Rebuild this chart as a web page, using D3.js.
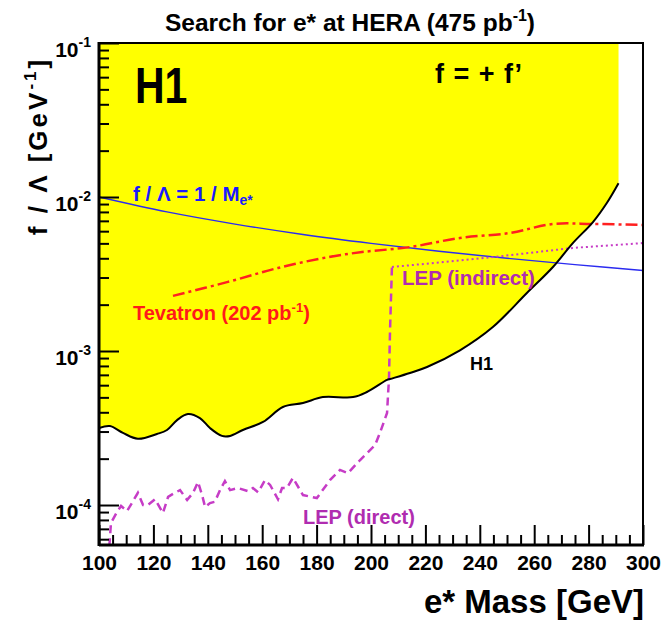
<!DOCTYPE html>
<html>
<head>
<meta charset="utf-8">
<script src="https://cdn.jsdelivr.net/npm/d3@7"></script>
<style>
  body { margin: 0; background: #fff; }
  svg { display: block; font-family: "Liberation Sans", Arial, Helvetica, sans-serif; font-weight: bold; }
</style>
</head>
<body>
<div id="chart"></div>
<script>
// H1 exclusion limit (upper edge of the white region)
const h1Mass  = [100, 104, 108.8, 114.3, 121.3, 125, 128.7, 132.7, 137.1, 140.8, 145.2, 148.2, 152.9, 160.3,
                 167.6, 175, 182.3, 193.4, 198.5, 205.9, 207, 214.3, 220.6, 232.7, 244.8, 257.3, 266.9,
                 274.2, 281.6, 286.7, 291];
const h1Limit = [3.16e-4, 3.26e-4, 2.94e-4, 2.69e-4, 2.89e-4, 3.07e-4, 3.56e-4, 3.90e-4, 3.67e-4, 3.16e-4,
                 2.81e-4, 2.81e-4, 3.07e-4, 3.46e-4, 4.33e-4, 4.59e-4, 5.02e-4, 5.02e-4, 5.42e-4, 6.49e-4,
                 6.58e-4, 7.20e-4, 7.87e-4, 1.01e-3, 1.43e-3, 2.38e-3, 3.51e-3, 5.02e-3, 6.88e-3, 9.15e-3, 1.23e-2];

// LEP direct search
const lepDirMass  = [103.8, 104.4, 106.6, 108.1, 110.3, 112.1, 114.3, 116.2, 118, 120.6, 123.5, 125.4, 127.9,
                     129.8, 132.4, 134.6, 136.4, 137.9, 139, 140.8, 142.6, 144.5, 146.3, 148.2, 151.1, 154.8,
                     156.6, 158.5, 161, 162.9, 165.8, 167.3, 169.1, 171.3, 175, 180.1, 184.9, 188.6, 191.5,
                     196, 201.5, 203.3, 205.9, 206.3, 206.6, 207, 207.7];
const lepDirLimit = [5.4e-5, 7.64e-5, 9.01e-5, 9.86e-5, 9.14e-5, 1.03e-4, 1.20e-4, 1.00e-4, 1.00e-4, 1.09e-4,
                     8.87e-5, 1.13e-4, 1.20e-4, 1.25e-4, 1.08e-4, 1.20e-4, 1.41e-4, 1.16e-4, 9.71e-5, 1.03e-4,
                     1.05e-4, 1.25e-4, 1.43e-4, 1.25e-4, 1.29e-4, 1.23e-4, 1.29e-4, 1.21e-4, 1.45e-4, 1.35e-4,
                     1.09e-4, 1.29e-4, 1.29e-4, 1.50e-4, 1.16e-4, 1.11e-4, 1.45e-4, 1.69e-4, 1.61e-4, 1.96e-4,
                     2.45e-4, 2.94e-4, 3.96e-4, 5.34e-4, 6.48e-4, 1.37e-3, 3.51e-3];

// LEP indirect
const lepIndMass  = [207.7, 226.5, 244.8, 274.2, 300];
const lepIndLimit = [3.51e-3, 3.78e-3, 4.07e-3, 4.67e-3, 5.02e-3];

// Tevatron (202 pb-1)
const tevMass  = [127.2, 147.4, 165.8, 184.2, 196.7, 214.3, 232.7, 251.1, 266.9, 281.6, 300];
const tevLimit = [2.28e-3, 2.81e-3, 3.46e-3, 4.07e-3, 4.39e-3, 4.73e-3, 5.42e-3, 5.84e-3, 6.68e-3, 6.68e-3, 6.58e-3];

// f / Lambda = 1 / M
const unitMass  = [100, 125, 150, 175, 200, 225, 250, 275, 300];
const unitLimit = [1.0e-2, 8.0e-3, 6.67e-3, 5.71e-3, 5.0e-3, 4.44e-3, 4.0e-3, 3.64e-3, 3.33e-3];

const xTickLabels = [100, 120, 140, 160, 180, 200, 220, 240, 260, 280, 300];
const yTickLabels = [1e-4, 1e-3, 1e-2, 1e-1];
const yTickExps   = ["-4", "-3", "-2", "-1"];

const W = 664, H = 620;
const pLeft = 99, pRight = 643, pTop = 43, pBottom = 545;

const x = d3.scaleLinear().domain([100, 300]).range([pLeft, pRight]);
const y = d3.scaleLog().domain([5.5e-5, 0.1]).range([pBottom, pTop]);

const svg = d3.select("#chart").append("svg")
    .attr("width", W)
    .attr("height", H);

svg.append("defs").append("clipPath")
    .attr("id", "plot")
    .append("rect")
    .attr("x", pLeft).attr("y", pTop)
    .attr("width", pRight - pLeft).attr("height", pBottom - pTop);

const zip = (a, b) => a.map((m, i) => [m, b[i]]);
const h1 = zip(h1Mass, h1Limit);

const plot = svg.append("g").attr("clip-path", "url(#plot)");

// excluded region
plot.append("path")
    .datum(h1)
    .attr("fill", "#ffff00")
    .attr("stroke", "none")
    .attr("d", d3.area()
        .x(d => x(d[0]))
        .y0(y(0.1))
        .y1(d => y(d[1]))
        .curve(d3.curveCatmullRom));

const line = d3.line().x(d => x(d[0])).y(d => y(d[1]));

plot.append("path")
    .datum(zip(unitMass, unitLimit))
    .attr("fill", "none")
    .attr("stroke", "#2b2bf0")
    .attr("stroke-width", 1.4)
    .attr("d", line.curve(d3.curveCatmullRom));

plot.append("path")
    .datum(zip(tevMass, tevLimit))
    .attr("fill", "none")
    .attr("stroke", "#ff2020")
    .attr("stroke-width", 2.5)
    .attr("stroke-dasharray", "12,4,3,4")
    .attr("d", line.curve(d3.curveCatmullRom));

plot.append("path")
    .datum(zip(lepIndMass, lepIndLimit))
    .attr("fill", "none")
    .attr("stroke", "#c63cc6")
    .attr("stroke-width", 2)
    .attr("stroke-dasharray", "2,3")
    .attr("d", line.curve(d3.curveLinear));

plot.append("path")
    .datum(zip(lepDirMass, lepDirLimit))
    .attr("fill", "none")
    .attr("stroke", "#c63cc6")
    .attr("stroke-width", 2.5)
    .attr("stroke-dasharray", "8,5")
    .attr("d", line.curve(d3.curveLinear));

plot.append("path")
    .datum(h1)
    .attr("fill", "none")
    .attr("stroke", "#000")
    .attr("stroke-width", 2)
    .attr("d", line.curve(d3.curveCatmullRom));

// axes
const xMinor = d3.range(100, 301, 5).filter(v => v % 20 !== 0);
svg.append("g")
    .attr("transform", "translate(0," + pBottom + ")")
    .call(d3.axisBottom(x).tickValues(xMinor).tickSize(-10).tickFormat(""))
    .call(g => g.select(".domain").remove())
    .call(g => g.selectAll("line").attr("stroke-width", 2));

svg.append("g")
    .attr("transform", "translate(0," + pBottom + ")")
    .call(d3.axisBottom(x).tickValues(xTickLabels).tickSize(-20).tickPadding(10).tickFormat(d3.format("d")))
    .call(g => g.select(".domain").remove())
    .call(g => g.selectAll("line").attr("stroke-width", 2))
    .call(g => g.selectAll("text")
        .attr("font-size", 21)
        .attr("font-family", "Liberation Sans, Arial, sans-serif")
        .attr("font-weight", "bold")
        .attr("fill", "#000"));

const yMinor = y.ticks().filter(v => yTickLabels.every(t => Math.abs(v / t - 1) > 1e-6));
svg.append("g")
    .attr("transform", "translate(" + pLeft + ",0)")
    .call(d3.axisLeft(y).tickValues(yMinor).tickSize(-10).tickFormat(""))
    .call(g => g.select(".domain").remove())
    .call(g => g.selectAll("line").attr("stroke-width", 2));

svg.append("g")
    .attr("transform", "translate(" + pLeft + ",0)")
    .call(d3.axisLeft(y).tickValues(yTickLabels).tickSize(-20).tickFormat(""))
    .call(g => g.select(".domain").remove())
    .call(g => g.selectAll("line").attr("stroke-width", 2));

const yLab = svg.append("g").selectAll("text")
    .data(yTickLabels)
    .join("text")
    .attr("x", 91)
    .attr("y", d => y(d) + 14)
    .attr("text-anchor", "end")
    .attr("font-size", 21);
yLab.append("tspan").text("10");
yLab.append("tspan")
    .attr("font-size", 14)
    .attr("dy", -10)
    .text((d, i) => yTickExps[i]);

// frame
svg.append("rect")
    .attr("x", pLeft).attr("y", pTop)
    .attr("width", pRight - pLeft).attr("height", pBottom - pTop)
    .attr("fill", "none")
    .attr("stroke", "#000")
    .attr("stroke-width", 2);
svg.append("line")
    .attr("x1", pLeft).attr("x2", pLeft)
    .attr("y1", pTop - 1).attr("y2", pBottom + 1)
    .attr("stroke", "#000")
    .attr("stroke-width", 3);
svg.append("line")
    .attr("x1", pLeft).attr("x2", pRight + 1)
    .attr("y1", pBottom).attr("y2", pBottom)
    .attr("stroke", "#000")
    .attr("stroke-width", 3);

// titles
const title = svg.append("text")
    .attr("x", 350).attr("y", 31)
    .attr("text-anchor", "middle")
    .attr("font-size", 24.5);
title.append("tspan").text("Search for e* at HERA (475 pb");
title.append("tspan").attr("font-size", 16).attr("dy", -10).text("-1");
title.append("tspan").attr("dy", 10).text(")");

svg.append("text")
    .attr("x", 644).attr("y", 613)
    .attr("text-anchor", "end")
    .attr("font-size", 33)
    .text("e* Mass [GeV]");

const yTitle = svg.append("text")
    .attr("transform", "translate(47,146) rotate(-90)")
    .attr("text-anchor", "middle")
    .attr("font-size", 26)
    .attr("letter-spacing", 3);
yTitle.append("tspan").text("f / \u039b [GeV");
yTitle.append("tspan").attr("font-size", 17).attr("dy", -11).text("-1");
yTitle.append("tspan").attr("dy", 11).text("]");

// annotations
svg.append("text")
    .attr("transform", "translate(135,103) scale(0.82,1)")
    .attr("font-size", 50)
    .text("H1");

svg.append("text")
    .attr("x", 435).attr("y", 83)
    .attr("font-size", 27)
    .attr("letter-spacing", 1)
    .text("f = + f\u2019");

const unitLab = svg.append("text")
    .attr("x", 133).attr("y", 201)
    .attr("font-size", 20.5)
    .attr("fill", "#1a1aff");
unitLab.append("tspan").text("f / \u039b  = 1 / M");
unitLab.append("tspan").attr("font-size", 14).attr("dy", 4).text("e*");

const tevLab = svg.append("text")
    .attr("x", 133).attr("y", 320)
    .attr("font-size", 20)
    .attr("fill", "#ff1a1a");
tevLab.append("tspan").text("Tevatron (202 pb");
tevLab.append("tspan").attr("font-size", 13).attr("dy", -8).text("-1");
tevLab.append("tspan").attr("dy", 8).text(")");

svg.append("text")
    .attr("x", 402).attr("y", 285)
    .attr("font-size", 20.5)
    .attr("fill", "#b02cb0")
    .text("LEP (indirect)");

svg.append("text")
    .attr("x", 303).attr("y", 524)
    .attr("font-size", 20)
    .attr("fill", "#b02cb0")
    .text("LEP (direct)");

svg.append("text")
    .attr("x", 470).attr("y", 370)
    .attr("font-size", 18)
    .text("H1");
</script>
</body>
</html>
